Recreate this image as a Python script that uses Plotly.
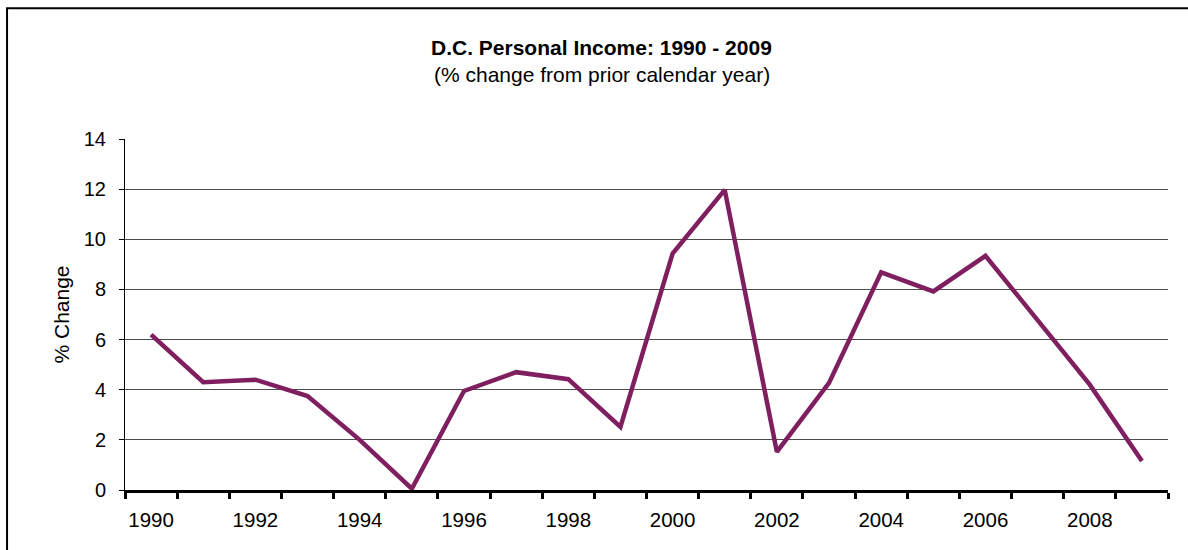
import plotly.graph_objects as go

# D.C. personal income, annual % change from the prior calendar year
years = [str(y) for y in range(1990, 2010)]
pct_change = [6.2, 4.3, 4.4, 3.75, 2.0, 0.05, 3.95, 4.7, 4.42, 2.52,
              9.43, 11.97, 1.52, 4.27, 8.68, 7.92, 9.34, 6.75, 4.2, 1.16]
year_labels = [y if int(y) % 2 == 0 else "" for y in years]
y_ticks = [0, 2, 4, 6, 8, 10, 12, 14]

FONT = "Liberation Sans, Arial, sans-serif"
LINE_COLOR = "#7F1F5F"

fig = go.Figure()
fig.add_trace(go.Scatter(
    x=years, y=pct_change, mode="lines",
    line=dict(color=LINE_COLOR, width=4.5),
    showlegend=False, hoverinfo="x+y",
))

fig.update_layout(
    width=1188, height=550,
    margin=dict(l=125, r=20, t=139, b=60),
    paper_bgcolor="white", plot_bgcolor="white",
    font=dict(family=FONT, size=20, color="black"),
    xaxis=dict(
        type="category",
        range=[-0.5, len(years) - 0.5],
        tickmode="array", tickvals=years, ticktext=year_labels,
        tickson="boundaries", tickangle=0, automargin=False,
        ticks="outside", ticklen=6, tickwidth=3, tickcolor="black",
        showline=True, linewidth=3, linecolor="black",
        showgrid=False, zeroline=False,
        ticklabelstandoff=9,
        tickfont=dict(size=20.5),
    ),
    yaxis=dict(
        range=[0, 14], automargin=False,
        tickmode="array", tickvals=y_ticks,
        ticks="outside", ticklen=5, tickwidth=1, tickcolor="black",
        showline=True, linewidth=1, linecolor="black",
        showgrid=True, gridcolor="#4d4d4d", gridwidth=1,
        zeroline=False,
        ticklabelstandoff=9,
        tickfont=dict(size=20),
        title=dict(text="% Change", font=dict(size=21), standoff=8),
    ),
    annotations=[
        dict(text="<b>D.C. Personal Income: 1990 - 2009</b>",
             xref="paper", yref="paper", x=0.457, y=1.262,
             xanchor="center", yanchor="middle", showarrow=False,
             font=dict(size=21)),
        dict(text="(% change from prior calendar year)",
             xref="paper", yref="paper", x=0.457, y=1.183,
             xanchor="center", yanchor="middle", showarrow=False,
             font=dict(size=21)),
    ],
    shapes=[
        dict(type="rect", xref="paper", yref="paper",
             x0=-0.1131, y0=-0.4, x1=1.2, y1=1.3725,
             line=dict(color="black", width=2), layer="below"),
    ],
)

fig.write_html("out.html")
